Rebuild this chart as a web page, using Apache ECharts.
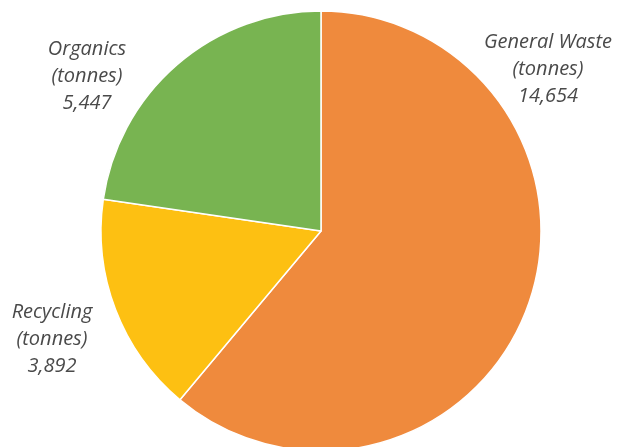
<!DOCTYPE html>
<html><head><meta charset="utf-8">
<script src="https://cdn.jsdelivr.net/npm/echarts@6/dist/echarts.min.js"></script>
<style>html,body{margin:0;padding:0;background:#fff}#c{width:622px;height:447px}</style>
</head><body><div id="c"></div>
<script>
var categories = ['General Waste', 'Recycling', 'Organics'];
var values = [14654, 3892, 5447];
var colors = ['#EF8A3D', '#FDC012', '#78B451'];
var labelPos = {
  'General Waste': [548, 69],
  'Recycling': [52, 339],
  'Organics': [87, 76]
};
var chart = echarts.init(document.getElementById('c'));
chart.setOption({
  animation: false,
  series: [{
    type: 'pie',
    center: [321, 231],
    radius: 220,
    startAngle: 90,
    clockwise: true,
    data: categories.map(function (c, i) {
      return { name: c, value: values[i], itemStyle: { color: colors[i] } };
    }),
    itemStyle: { borderColor: '#fff', borderWidth: 1.5 },
    label: {
      show: true,
      position: 'outside',
      overflow: 'none',
      width: 200,
      formatter: function (p) {
        return p.name + '\n(tonnes)\n' + p.value.toLocaleString('en-US');
      },
      fontFamily: 'Open Sans',
      fontStyle: 'italic',
      fontSize: 20,
      lineHeight: 27,
      color: '#4a4a4a',
      align: 'center'
    },
    labelLine: { show: false },
    labelLayout: function (params) {
      var name = categories[params.dataIndex];
      var p = labelPos[name];
      return { x: p[0], y: p[1], align: 'center', verticalAlign: 'middle' };
    }
  }]
});
</script></body></html>
